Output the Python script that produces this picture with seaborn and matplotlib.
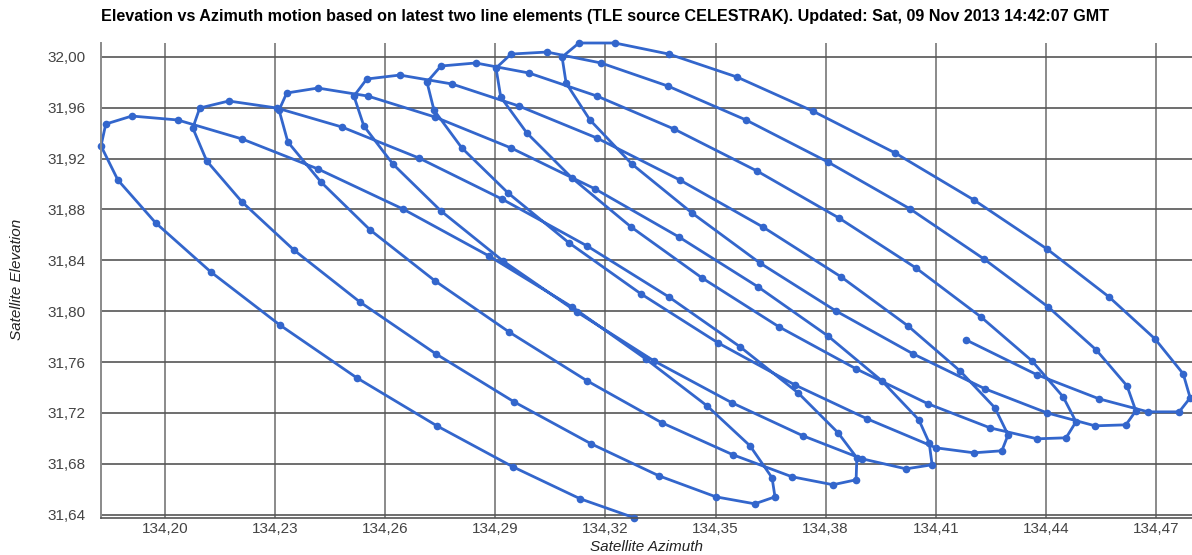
import matplotlib
matplotlib.use("Agg")
import matplotlib.pyplot as plt
import numpy as np
import seaborn as sns
from matplotlib.ticker import FixedLocator, FuncFormatter

# satellite track, hourly points, read off the chart loop by loop
# lead-in from the first point (bottom) up to the first left turn
az_lead = [134.3278, 134.3131, 134.2948, 134.2741, 134.2523, 134.2313, 134.2125, 134.1975, 134.1872]
el_lead = [31.6377, 31.6526, 31.6777, 31.7099, 31.7476, 31.7892, 31.8309, 31.8694, 31.9031]

az_loop1 = [134.1826, 134.1839, 134.1910, 134.2035, 134.2210, 134.2417, 134.2648, 134.2883,
            134.3109, 134.3310, 134.3477, 134.3594, 134.3654, 134.3662, 134.3607, 134.3501,
            134.3346, 134.3161, 134.2951, 134.2738, 134.2531, 134.2351, 134.2210, 134.2114]
el_loop1 = [31.9299, 31.9471, 31.9534, 31.9503, 31.9354, 31.9118, 31.8804, 31.8434,
            31.8034, 31.7625, 31.7256, 31.6942, 31.6691, 31.6541, 31.6486, 31.6541,
            31.6706, 31.6958, 31.7288, 31.7665, 31.8073, 31.8482, 31.8859, 31.9181]

az_loop2 = [134.2076, 134.2095, 134.2174, 134.2305, 134.2482, 134.2692, 134.2918, 134.3150,
            134.3373, 134.3567, 134.3725, 134.3834, 134.3885, 134.3883, 134.3820, 134.3708,
            134.3548, 134.3354, 134.3150, 134.2937, 134.2736, 134.2559, 134.2425, 134.2335]
el_loop2 = [31.9440, 31.9597, 31.9652, 31.9597, 31.9448, 31.9204, 31.8882, 31.8513,
            31.8112, 31.7720, 31.7358, 31.7044, 31.6848, 31.6675, 31.6636, 31.6699,
            31.6871, 31.7123, 31.7453, 31.7838, 31.8238, 31.8639, 31.9016, 31.9330]

az_loop3 = [134.2311, 134.2332, 134.2417, 134.2553, 134.2736, 134.2943, 134.3172, 134.3400,
            134.3616, 134.3806, 134.3953, 134.4054, 134.4082, 134.4090, 134.4019, 134.3899,
            134.3738, 134.3545, 134.3332, 134.3122, 134.2921, 134.2752, 134.2621, 134.2542]
el_loop3 = [31.9581, 31.9715, 31.9754, 31.9691, 31.9526, 31.9283, 31.8961, 31.8584,
            31.8191, 31.7806, 31.7453, 31.7146, 31.6966, 31.6793, 31.6761, 31.6840,
            31.7021, 31.7280, 31.7610, 31.7995, 31.8395, 31.8788, 31.9157, 31.9456]

az_loop4 = [134.2515, 134.2550, 134.2640, 134.2782, 134.2964, 134.3177, 134.3403, 134.3629,
            134.3842, 134.4024, 134.4166, 134.4261, 134.4297, 134.4280, 134.4204, 134.4101,
            134.3913, 134.3716, 134.3507, 134.3297, 134.3101, 134.2935, 134.2809, 134.2733]
el_loop4 = [31.9691, 31.9825, 31.9856, 31.9786, 31.9613, 31.9361, 31.9031, 31.8662,
            31.8270, 31.7885, 31.7531, 31.7241, 31.7028, 31.6903, 31.6887, 31.6926,
            31.7154, 31.7421, 31.7751, 31.8136, 31.8537, 31.8929, 31.9283, 31.9581]

az_loop5 = [134.2714, 134.2752, 134.2847, 134.2992, 134.3177, 134.3387, 134.3613, 134.3836,
            134.4046, 134.4223, 134.4362, 134.4447, 134.4482, 134.4455, 134.4376, 134.4248,
            134.4079, 134.3883, 134.3673, 134.3463, 134.3270, 134.3109, 134.2986, 134.2915]
el_loop5 = [31.9801, 31.9927, 31.9951, 31.9872, 31.9691, 31.9432, 31.9102, 31.8733,
            31.8340, 31.7955, 31.7610, 31.7327, 31.7131, 31.7005, 31.6997, 31.7083,
            31.7272, 31.7547, 31.7877, 31.8262, 31.8662, 31.9047, 31.9401, 31.9683]

az_loop6 = [134.2902, 134.2943, 134.3041, 134.3188, 134.3370, 134.3583, 134.3806, 134.4030,
            134.4231, 134.4406, 134.4537, 134.4621, 134.4645, 134.4618, 134.4534, 134.4403,
            134.4234, 134.4038, 134.3828, 134.3621, 134.3436, 134.3272, 134.3158, 134.3093]
el_loop6 = [31.9911, 32.0021, 32.0037, 31.9951, 31.9770, 31.9503, 31.9173, 31.8804,
            31.8411, 31.8034, 31.7696, 31.7413, 31.7217, 31.7107, 31.7099, 31.7201,
            31.7390, 31.7665, 31.8002, 31.8379, 31.8772, 31.9157, 31.9503, 31.9793]

# last loop, track ends part way back up
az_loop7 = [134.3082, 134.3128, 134.3226, 134.3373, 134.3558, 134.3765, 134.3989, 134.4204,
            134.4403, 134.4572, 134.4697, 134.4774, 134.4793, 134.4763, 134.4678, 134.4545,
            134.4376, 134.4182]
el_loop7 = [31.9998, 32.0108, 32.0108, 32.0021, 31.9841, 31.9573, 31.9244, 31.8874,
            31.8489, 31.8112, 31.7783, 31.7508, 31.7319, 31.7209, 31.7209, 31.7311,
            31.7500, 31.7775]

x_ticks = [134.20, 134.23, 134.26, 134.29, 134.32, 134.35, 134.38, 134.41, 134.44, 134.47]
y_ticks = [31.64, 31.68, 31.72, 31.76, 31.80, 31.84, 31.88, 31.92, 31.96, 32.00]

title = ("Elevation vs Azimuth motion based on latest two line elements "
         "(TLE source CELESTRAK). Updated: Sat, 09 Nov 2013 14:42:07 GMT")

az = np.concatenate([az_lead, az_loop1, az_loop2, az_loop3, az_loop4, az_loop5, az_loop6, az_loop7])
el = np.concatenate([el_lead, el_loop1, el_loop2, el_loop3, el_loop4, el_loop5, el_loop6, el_loop7])

sns.set_theme(style="white")
plt.rcParams["font.family"] = ["Liberation Sans", "DejaVu Sans"]

fig = plt.figure(figsize=(11.92, 5.55), dpi=100)
ax = fig.add_axes([101 / 1192, 37.3 / 555, 1091 / 1192, 474.7 / 555])

sns.lineplot(x=az, y=el, sort=False, estimator=None, color="#3366cc", linewidth=2,
             marker="o", markersize=5.5, markeredgewidth=0, clip_on=False, ax=ax)

ax.set_xlim(134.1826, 134.4798)
ax.set_ylim(31.6377, 32.0108)
ax.xaxis.set_major_locator(FixedLocator(x_ticks))
ax.yaxis.set_major_locator(FixedLocator(y_ticks))
comma = FuncFormatter(lambda v, pos: f"{v:.2f}".replace(".", ","))
ax.xaxis.set_major_formatter(comma)
ax.yaxis.set_major_formatter(comma)

ax.set_axisbelow(True)
ax.xaxis.grid(True, color="#8a8a8a", linewidth=1.4)
ax.yaxis.grid(True, color="#555555", linewidth=1.2)
ax.tick_params(axis="both", length=0, labelsize=11, labelcolor="#444444")
ax.tick_params(axis="y", pad=11)
ax.tick_params(axis="x", pad=3)

for side in ["top", "right"]:
    ax.spines[side].set_visible(False)
ax.spines["left"].set_color("#8a8a8a")
ax.spines["left"].set_linewidth(1.4)
ax.spines["bottom"].set_color("#555555")
ax.spines["bottom"].set_linewidth(1.2)

ax.set_xlabel("")
ax.set_ylabel("")
fig.text(646 / 1192, 1 - 547 / 555, "Satellite Azimuth", ha="center", va="center",
         style="italic", fontsize=11, color="#222222")
fig.text(17 / 1192, 1 - 279 / 555, "Satellite Elevation", ha="center", va="center",
         rotation=90, style="italic", fontsize=11, color="#222222")
fig.text(101 / 1192, 1 - 17 / 555, title, ha="left", va="center",
         fontweight="bold", fontsize=11.6, color="#000000")

fig.savefig("out.png", dpi=100)
